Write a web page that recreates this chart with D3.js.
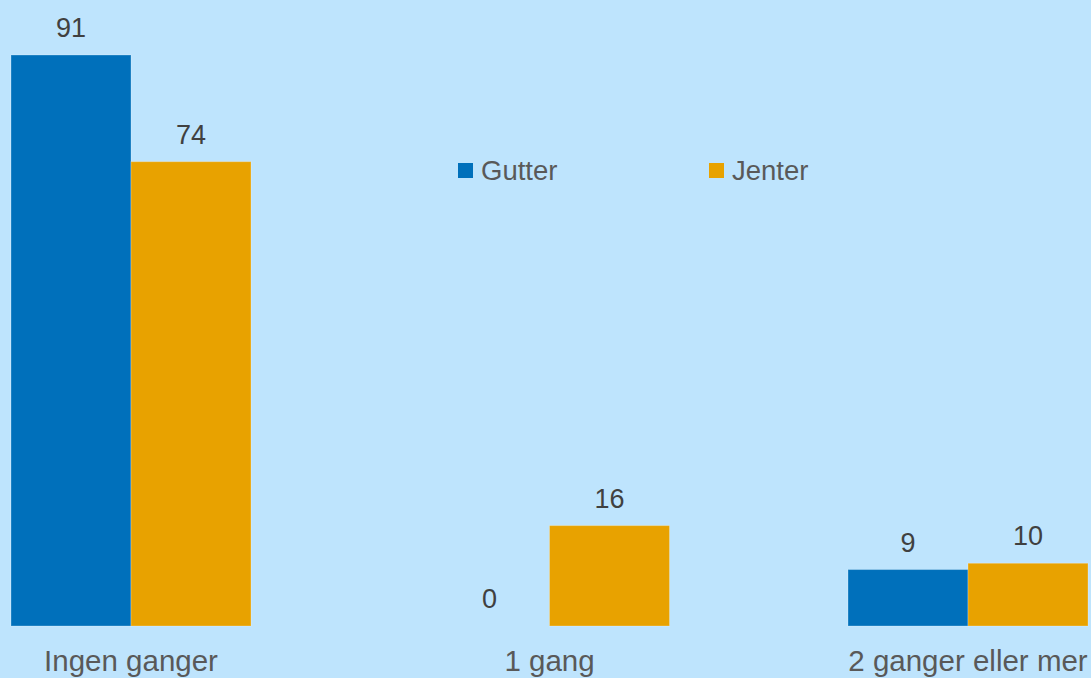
<!DOCTYPE html>
<html>
<head>
<meta charset="utf-8">
<title>Gutter og jenter</title>
<style>
body {
  margin: 0;
  background: #bee4fd;
}

svg {
  display: block;
  font-family: "Liberation Sans", Arial, sans-serif;
}

.bar {
  stroke: rgba(255, 255, 255, 0.25);
  stroke-width: 1px;
}

.value {
  fill: #404040;
  font-size: 27px;
  text-anchor: middle;
}

.cat {
  fill: #595959;
  font-size: 29.5px;
  text-anchor: middle;
}

.legend text {
  fill: #595959;
  font-size: 27.5px;
}
</style>
<script src="https://d3js.org/d3.v7.min.js"></script>
</head>
<body>
<script>
const width = 1091,
  height = 678,
  baseline = 626;

const categories = ['Ingen ganger', '1 gang', '2 ganger eller mer'];
const seriesNames = ['Gutter', 'Jenter'];
const gutter = [91, 0, 9];
const jenter = [74, 16, 10];

const colors = ['#0070bb', '#e8a200'];

let svg = d3.select('body').append('svg')
  .attr('width', width)
  .attr('height', height);

let x = d3.scalePoint()
  .domain(categories)
  .range([131, 968]);

let xSub = d3.scaleBand()
  .domain(seriesNames)
  .range([-120, 120]);

let y = d3.scaleLinear()
  .domain([0, 91])
  .range([baseline, 55]);

let rows = categories.map((c, i) => ({
  cat: c,
  values: [
    { key: 'Gutter', value: gutter[i] },
    { key: 'Jenter', value: jenter[i] }
  ]
}));

let groups = svg.append('g')
  .selectAll('g')
    .data(rows)
    .enter().append('g')
      .attr('transform', d => 'translate(' + x(d.cat) + ',0)');

groups.selectAll('rect')
  .data(d => d.values)
  .enter().append('rect')
    .attr('class', 'bar')
    .attr('x', d => xSub(d.key))
    .attr('width', xSub.bandwidth())
    .attr('y', d => y(d.value))
    .attr('height', d => baseline - y(d.value))
    .style('fill', (d, i) => colors[i])
    .style('stroke-opacity', d => d.value === 0 ? 0 : 1);

groups.selectAll('text.value')
  .data(d => d.values)
  .enter().append('text')
    .attr('class', 'value')
    .attr('x', d => xSub(d.key) + xSub.bandwidth() / 2)
    .attr('y', d => y(d.value) - 18)
    .text(d => d.value);

groups.append('text')
  .attr('class', 'cat')
  .attr('x', 0)
  .attr('y', 671)
  .text(d => d.cat);

// legend
const legendX = [458, 709];
let legend = svg.append('g')
  .attr('class', 'legend')
  .selectAll('g')
    .data(seriesNames)
    .enter().append('g')
      .attr('transform', (d, i) => 'translate(' + legendX[i] + ',163)');

legend.append('rect')
  .attr('width', 15)
  .attr('height', 15)
  .style('fill', (d, i) => colors[i]);

legend.append('text')
  .attr('x', 23)
  .attr('y', 17)
  .text(d => d);
</script>
</body>
</html>
